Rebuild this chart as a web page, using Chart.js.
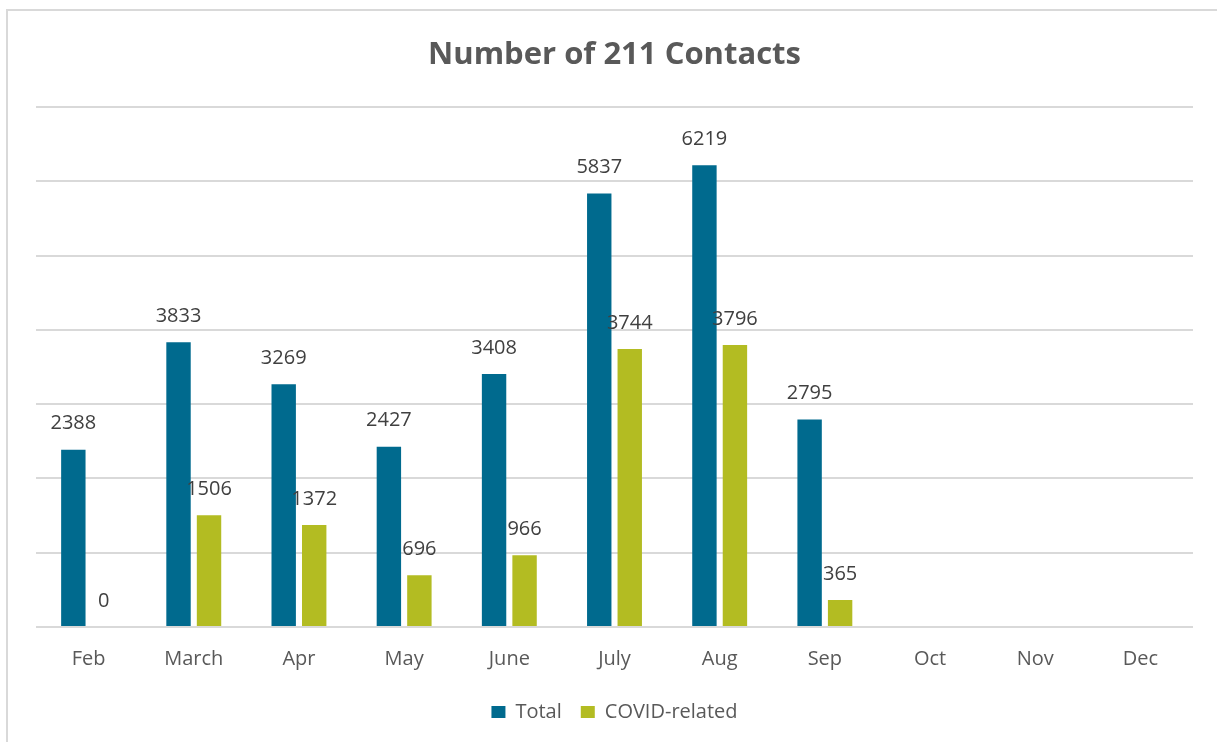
<!DOCTYPE html>
<html>
<head>
<meta charset="utf-8">
<script src="https://cdn.jsdelivr.net/npm/chart.js@4"></script>
<style>
  html, body { margin: 0; padding: 0; background: #fff; }
  #wrap { position: relative; width: 1217px; height: 742px; overflow: hidden; }
  #frame { position: absolute; left: 6px; top: 9px; width: 1300px; height: 800px;
           border-left: 2px solid #d9d9d9; border-top: 2px solid #d9d9d9; }
  #c { position: absolute; left: 0; top: 0; }
</style>
</head>
<body>
<div id="wrap">
  <div id="frame"></div>
  <canvas id="c" width="1217" height="742"></canvas>
</div>
<script>
// данные
const months = ['Feb', 'March', 'Apr', 'May', 'June', 'July', 'Aug', 'Sep', 'Oct', 'Nov', 'Dec'];
const totalContacts = [2388, 3833, 3269, 2427, 3408, 5837, 6219, 2795, null, null, null];
const covidContacts = [0, 1506, 1372, 696, 966, 3744, 3796, 365, null, null, null];

const FONT = "'Open Sans', 'DejaVu Sans', sans-serif";

// подписи над столбцами
const valueLabels = {
    id: 'valueLabels',
    afterDatasetsDraw(chart) {
        const ctx = chart.ctx;
        ctx.save();
        ctx.font = '20px ' + FONT;
        ctx.fillStyle = '#404040';
        ctx.textAlign = 'center';
        ctx.textBaseline = 'middle';
        chart.data.datasets.forEach((ds, i) => {
            const meta = chart.getDatasetMeta(i);
            meta.data.forEach((bar, j) => {
                const v = ds.data[j];
                if (v === null || v === undefined) return;
                ctx.fillText(String(v), bar.x, bar.y - 26);
            });
        });
        ctx.restore();
    }
};

new Chart(document.getElementById('c'), {
    type: 'bar',
    data: {
        labels: months,
        datasets: [
            { label: 'Total', data: totalContacts, backgroundColor: '#006A8E',
              categoryPercentage: 0.58, barPercentage: 0.8 },
            { label: 'COVID-related', data: covidContacts, backgroundColor: '#B3BC22',
              categoryPercentage: 0.58, barPercentage: 0.8 }
        ]
    },
    options: {
        responsive: false,
        animation: false,
        layout: { padding: { left: 36, right: 24, top: 0, bottom: 10 } },
        scales: {
            x: {
                grid: { display: false },
                border: { display: false },
                ticks: { color: '#595959', font: { family: FONT, size: 20 }, padding: 12 }
            },
            y: {
                min: 0, max: 7000,
                ticks: { display: false, stepSize: 1000 },
                grid: { color: '#d9d9d9', lineWidth: 2, drawTicks: false },
                border: { display: false }
            }
        },
        plugins: {
            title: {
                display: true,
                text: 'Number of 211 Contacts',
                color: '#595959',
                font: { family: FONT, size: 31, weight: 'bold' },
                padding: { top: 37, bottom: 33 }
            },
            legend: {
                position: 'bottom',
                labels: { color: '#595959', font: { family: FONT, size: 20 },
                          boxWidth: 14, boxHeight: 12, padding: 19 }
            },
            tooltip: { enabled: false }
        }
    },
    plugins: [valueLabels]
});
</script>
</body>
</html>
